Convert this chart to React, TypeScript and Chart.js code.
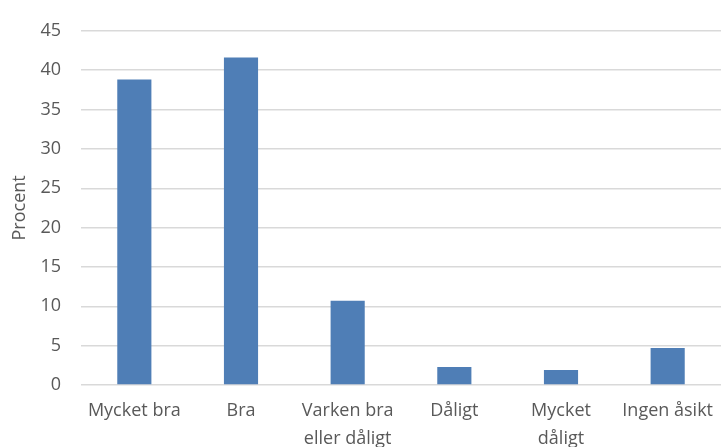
import React, { useEffect, useRef } from "react";
import { Chart, registerables } from "chart.js";

Chart.register(...registerables);

const categories: (string | string[])[] = [
  "Mycket bra",
  "Bra",
  ["Varken bra", "eller dåligt"],
  "Dåligt",
  ["Mycket", "dåligt"],
  "Ingen åsikt",
];
const percentValues = [38.8, 41.6, 10.7, 2.3, 1.9, 4.7];
const yTickMax = 45;
const yTickStep = 5;
const yTitle = "Procent";

export default function App() {
  const ref = useRef<HTMLCanvasElement | null>(null);

  useEffect(() => {
    document.body.style.margin = "0";
    const ctx = ref.current!;
    const textColor = "#595959";
    const font = { family: "'Open Sans', sans-serif", size: 18 };
    const chart = new Chart(ctx, {
      type: "bar",
      data: {
        labels: categories,
        datasets: [
          {
            data: percentValues,
            backgroundColor: "#4F7EB6",
            borderWidth: 0,
            barPercentage: 0.32,
            categoryPercentage: 1,
          },
        ],
      },
      options: {
        animation: false,
        responsive: true,
        maintainAspectRatio: false,
        layout: { padding: { top: 25, right: 0, left: 0, bottom: 0 } },
        plugins: { legend: { display: false }, tooltip: { enabled: false } },
        scales: {
          x: {
            grid: { display: false, drawTicks: false },
            border: { display: false },
            ticks: {
              color: textColor,
              font: { ...font, lineHeight: 1.55 },
              padding: 12,
              maxRotation: 0,
              autoSkip: false,
            },
            afterFit: (s: any) => {
              s.height = 62;
            },
          },
          y: {
            min: 0,
            max: yTickMax,
            grid: { color: "#D9D9D9", lineWidth: 1.4, drawTicks: false },
            border: { display: false },
            ticks: {
              stepSize: yTickStep,
              color: textColor,
              font,
              padding: 20,
            },
            title: {
              display: true,
              text: yTitle,
              color: textColor,
              font,
              padding: { top: 9, bottom: 0 },
            },
            afterFit: (s: any) => {
              s.width = 81;
            },
          },
        },
      },
    });
    return () => chart.destroy();
  }, []);

  return (
    <div style={{ position: "fixed", left: 0, top: 0, width: 725, height: 447 }}>
      <canvas ref={ref} />
    </div>
  );
}
